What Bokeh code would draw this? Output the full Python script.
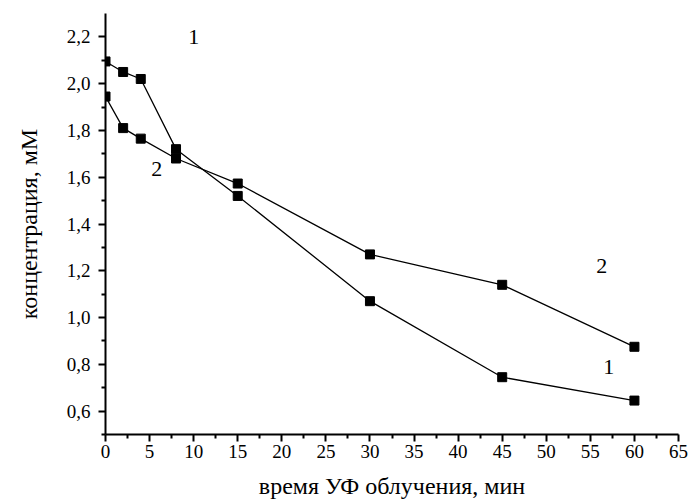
from bokeh.plotting import figure
from bokeh.models import FixedTicker, Range1d
from bokeh.embed import file_html
from bokeh.resources import INLINE
from bokeh.core.properties import value

time_min = [0, 2, 4, 8, 15, 30, 45, 60]
conc_1 = [2.095, 2.05, 2.02, 1.72, 1.52, 1.07, 0.745, 0.645]
conc_2 = [1.945, 1.81, 1.765, 1.68, 1.573, 1.27, 1.14, 0.875]

x_ticks = [0, 5, 10, 15, 20, 25, 30, 35, 40, 45, 50, 55, 60, 65]
y_ticks = [0.6, 0.8, 1.0, 1.2, 1.4, 1.6, 1.8, 2.0, 2.2]
y_tick_labels = ["0,6", "0,8", "1,0", "1,2", "1,4", "1,6", "1,8", "2,0", "2,2"]

curve_labels = ["1", "2", "2", "1"]
label_x = [10.0, 5.8, 56.3, 57.1]
label_y = [2.2, 1.635, 1.22, 0.79]

FONT = "Liberation Serif"

p = figure(width=692, height=501, output_backend="svg", toolbar_location=None,
           x_range=Range1d(0, 65), y_range=Range1d(0.5, 2.3),
           min_border_left=105, min_border_right=14, min_border_top=13, min_border_bottom=67)
p.outline_line_color = None
p.grid.visible = False
p.background_fill_color = "white"
p.border_fill_color = "white"

p.line(time_min, conc_1, line_color="black", line_width=1.3)
p.line(time_min, conc_2, line_color="black", line_width=1.3)
p.scatter(time_min, conc_1, marker="square", size=9, color="black")
p.scatter(time_min, conc_2, marker="square", size=9, color="black")

p.text(x=label_x, y=label_y, text=curve_labels, text_font=value(FONT),
       text_font_size="22px", text_align="center", text_baseline="middle", color="black")

minor_x = [2.5 + 5 * i for i in range(13)]
minor_y = [0.5 + 0.2 * i for i in range(9)]
p.xaxis.ticker = FixedTicker(ticks=x_ticks, minor_ticks=minor_x)
p.yaxis.ticker = FixedTicker(ticks=y_ticks, minor_ticks=minor_y)
p.yaxis.major_label_overrides = {t: l for t, l in zip(y_ticks, y_tick_labels)}

for ax in (p.xaxis[0], p.yaxis[0]):
    ax.axis_line_width = 2
    ax.axis_line_color = "black"
    ax.major_tick_line_width = 2
    ax.minor_tick_line_width = 2
    ax.major_tick_out = 7
    ax.major_tick_in = 0
    ax.minor_tick_out = 4
    ax.minor_tick_in = 0
    ax.major_label_text_font = FONT
    ax.major_label_text_font_size = "19px"
    ax.major_label_text_color = "black"
    ax.axis_label_text_font = FONT
    ax.axis_label_text_font_size = "24px"
    ax.axis_label_text_font_style = "normal"
    ax.axis_label_text_color = "black"

p.xaxis.axis_label = "время УФ облучения, мин"
p.yaxis.axis_label = "концентрация, мМ"
p.xaxis.major_label_standoff = 3
p.yaxis.major_label_standoff = 8
p.xaxis.axis_label_standoff = 12
p.yaxis.axis_label_standoff = 22

open("out.html", "w").write(file_html(p, INLINE))
